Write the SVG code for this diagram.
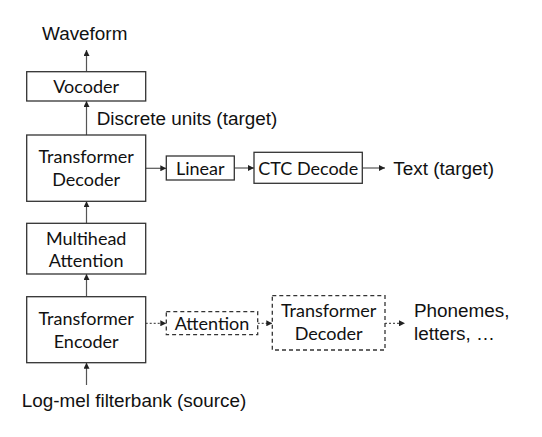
<svg xmlns="http://www.w3.org/2000/svg" width="542" height="437" viewBox="0 0 542 437">
<defs>
<marker id="ah" viewBox="0 0 10 10" refX="10" refY="5" markerWidth="6" markerHeight="6" markerUnits="userSpaceOnUse" orient="auto">
<path d="M0,0 L10,5 L0,10 z" fill="#222"/>
</marker>
<style>
.box{fill:#fff;stroke:#333;stroke-width:1.3}
.dbox{fill:#fff;stroke:#333;stroke-width:1.3;stroke-dasharray:4 3}
.bt{font-family:Lato,"Liberation Sans",sans-serif;font-size:18px;fill:#111;text-anchor:middle}
.lt{font-family:"Liberation Sans",Arial,sans-serif;font-size:18.9px;fill:#111}
.c{stroke:#555;stroke-width:1.2;fill:none;marker-end:url(#ah)}
.cd{stroke:#555;stroke-width:1.2;fill:none;stroke-dasharray:2 2;marker-end:url(#ah)}
</style>
</defs>
<rect width="542" height="437" fill="#fff"/>
<g id="connectors">
<line class="c" x1="86.5" y1="71.7" x2="86.5" y2="50"/>
<line class="c" x1="86.5" y1="135" x2="86.5" y2="101"/>
<line class="c" x1="86.5" y1="223.3" x2="86.5" y2="201.3"/>
<line class="c" x1="86.5" y1="296.7" x2="86.5" y2="274"/>
<line class="c" x1="86.5" y1="385" x2="86.5" y2="362.7"/>
<line class="c" x1="145.7" y1="168.3" x2="166.3" y2="168.3"/>
<line class="c" x1="234.3" y1="168" x2="254" y2="168"/>
<line class="c" x1="362.3" y1="168" x2="385" y2="168"/>
<line class="cd" x1="145.7" y1="323.3" x2="166.3" y2="323.3"/>
<line class="cd" x1="257.7" y1="323.3" x2="272.3" y2="323.3"/>
<line class="cd" x1="385" y1="323.3" x2="405" y2="323.3"/>
</g>
<g id="waveform"><text class="lt" x="42" y="40">Waveform</text></g>
<g id="vocoder"><rect class="box" x="26.7" y="71.7" width="119" height="29.3"/><text class="bt" x="86.2" y="93">Vocoder</text></g>
<g id="discrete-units"><text class="lt" x="96.7" y="125">Discrete units (target)</text></g>
<g id="transformer-decoder"><rect class="box" x="26.7" y="135" width="119" height="66.3"/><text class="bt" x="86.2" y="163.3">Transformer</text><text class="bt" x="86.2" y="185.7">Decoder</text></g>
<g id="linear"><rect class="box" x="166.3" y="156" width="68" height="24"/><text class="bt" x="200.3" y="174.5">Linear</text></g>
<g id="ctc-decode"><rect class="box" x="254" y="152.3" width="108.3" height="31"/><text class="bt" x="308.2" y="174.5">CTC Decode</text></g>
<g id="text-target"><text class="lt" x="393.3" y="175">Text (target)</text></g>
<g id="multihead-attention"><rect class="box" x="26.7" y="223.3" width="119" height="50.7"/><text class="bt" x="86.2" y="244.7">Multihead</text><text class="bt" x="86.2" y="267">Attention</text></g>
<g id="transformer-encoder"><rect class="box" x="26.7" y="296.7" width="119" height="66"/><text class="bt" x="86.2" y="325.3">Transformer</text><text class="bt" x="86.2" y="347.7">Encoder</text></g>
<g id="attention"><rect class="dbox" x="166.3" y="311.7" width="91.4" height="23"/><text class="bt" x="212" y="329.8">Attention</text></g>
<g id="transformer-decoder-2"><rect class="dbox" x="272.3" y="295.7" width="112.7" height="54.3"/><text class="bt" x="328.7" y="317">Transformer</text><text class="bt" x="328.7" y="339.6">Decoder</text></g>
<g id="phonemes"><text class="lt" x="414" y="316.7">Phonemes,</text><text class="lt" x="414" y="340">letters, …</text></g>
<g id="log-mel"><text class="lt" x="21.7" y="406.7">Log-mel filterbank (source)</text></g>
</svg>
